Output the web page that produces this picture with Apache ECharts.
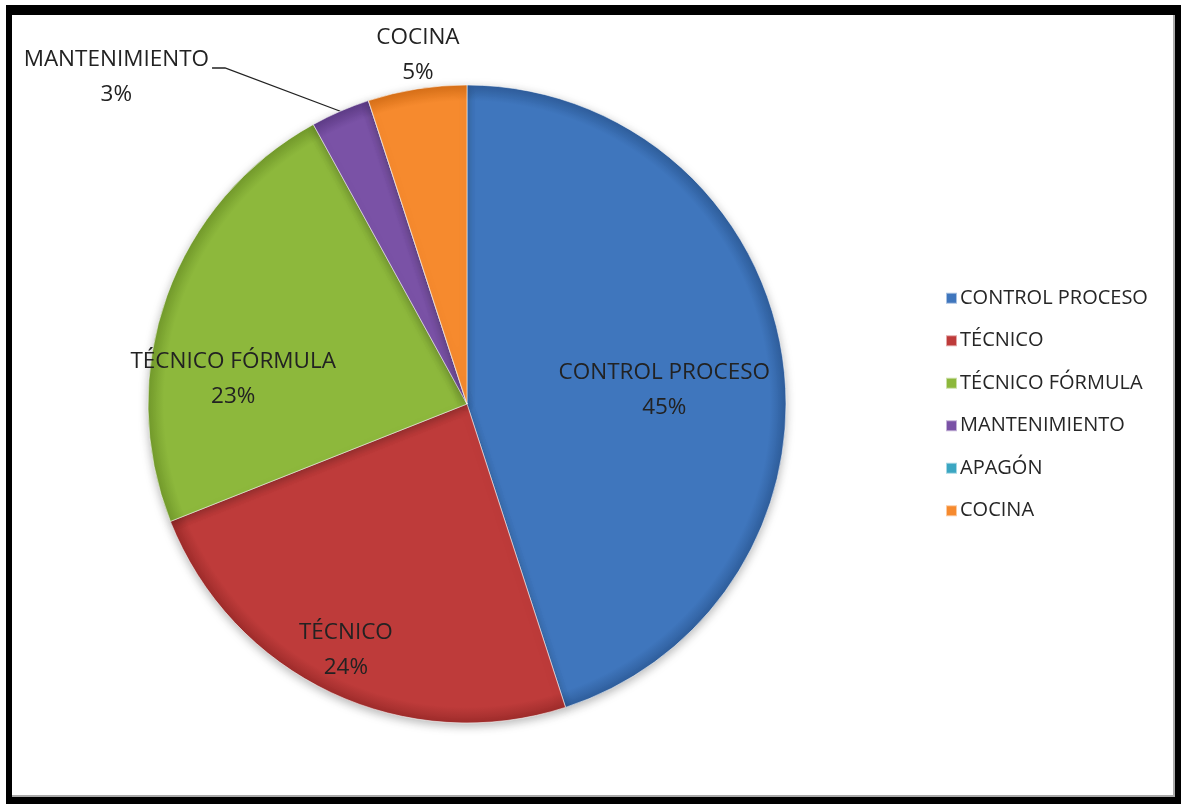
<!DOCTYPE html>
<html>
<head>
<meta charset="utf-8">
<script src="https://cdn.jsdelivr.net/npm/echarts@6/dist/echarts.min.js"></script>
<style>
html,body{margin:0;padding:0;background:#fff;}
#chart{position:absolute;left:0;top:0;width:1181px;height:804px;}
#frame{position:absolute;left:6px;top:5px;width:1163px;height:782px;border-style:solid;border-color:#000;border-width:10px 6px 7px 6px;pointer-events:none;}
#inner{position:absolute;left:12px;top:15px;width:1161px;height:780px;border-right:2px solid #aaa;border-bottom:2px solid #aaa;pointer-events:none;}
</style>
</head>
<body>
<div id="chart"></div>
<div id="inner"></div>
<div id="frame"></div>
<script>
const categories = ['CONTROL PROCESO', 'TÉCNICO', 'TÉCNICO FÓRMULA', 'MANTENIMIENTO', 'APAGÓN', 'COCINA'];
const values = [45, 24, 23, 3, 0, 5];
const colors = ['#3F76BD', '#BE3B3A', '#8DB83C', '#7A52A6', '#3BA6C2', '#F68A2E'];
const rimColors = ['#2F5E9C', '#9E2C2B', '#739B2C', '#5F3C88', '#2A88A2', '#D87018'];
// label placement: [distance as fraction of radius, angle shift in degrees]
const labelPlace = [[0.62, 5], [0.86, 1], [0.737, -13.8], [1.503, -23.6], [0, 0], [1.105, 1]];

const CX = 467, CY = 404, R = 319;
const total = values.reduce((a, b) => a + b, 0);
const midAngles = [];
let cum = 0;
values.forEach(v => { midAngles.push(360 * (cum + v / 2) / total); cum += v; });

const chart = echarts.init(document.getElementById('chart'), null, {renderer: 'canvas'});
const FONT = '"Open Sans", Lato, sans-serif';

const data = categories.map((name, i) => ({
  name: name,
  value: values[i],
  itemStyle: {
    color: {
      type: 'radial', x: CX, y: CY, r: R, global: true,
      colorStops: [
        {offset: 0, color: colors[i]},
        {offset: 0.95, color: colors[i]},
        {offset: 1, color: rimColors[i]}
      ]
    }
  },
  label: {show: values[i] > 0},
  labelLine: {show: i === 3, lineStyle: {color: '#222', width: 1.3}}
}));

chart.setOption({
  backgroundColor: '#fff',
  animation: false,
  color: colors,
  legend: {
    orient: 'vertical',
    left: 940,
    top: 282,
    itemWidth: 11,
    itemHeight: 11,
    itemGap: 20,
    icon: 'rect',
    textStyle: {fontFamily: FONT, fontSize: 20, color: '#262626', lineHeight: 22.5, padding: [0, 0, 0, -2]},
    data: categories.map((c, i) => ({name: c, itemStyle: {color: colors[i]}}))
  },
  series: [{
    type: 'pie',
    center: [CX, CY],
    radius: R,
    startAngle: 90,
    clockwise: true,
    avoidLabelOverlap: false,
    stillShowZeroSum: true,
    data: data,
    itemStyle: {
      borderColor: 'rgba(255,255,255,0.55)',
      borderWidth: 1,
      shadowBlur: 10,
      shadowColor: 'rgba(0,0,0,0.28)',
      shadowOffsetY: 3
    },
    label: {
      position: 'outside',
      formatter: p => p.name + '\n' + Math.round(p.percent) + '%',
      fontFamily: FONT,
      fontSize: 22.5,
      lineHeight: 35,
      color: '#222'
    },
    labelLine: {show: false},
    labelLayout: function (params) {
      const i = params.dataIndex;
      const pl = labelPlace[i];
      const a = (midAngles[i] + pl[1]) * Math.PI / 180;
      const d = pl[0] * R;
      const x = CX + d * Math.sin(a);
      const y = CY - d * Math.cos(a);
      const res = {x: x, y: y, align: 'center', verticalAlign: 'middle'};
      if (i === 3) {
        const ma = midAngles[i] * Math.PI / 180;
        const ex = CX + R * Math.sin(ma), ey = CY - R * Math.cos(ma);
        const right = x + params.labelRect.width / 2;
        res.labelLinePoints = [[ex, ey], [right + 16, y - 9], [right + 3, y - 9]];
      }
      return res;
    }
  }]
});
</script>
</body>
</html>
